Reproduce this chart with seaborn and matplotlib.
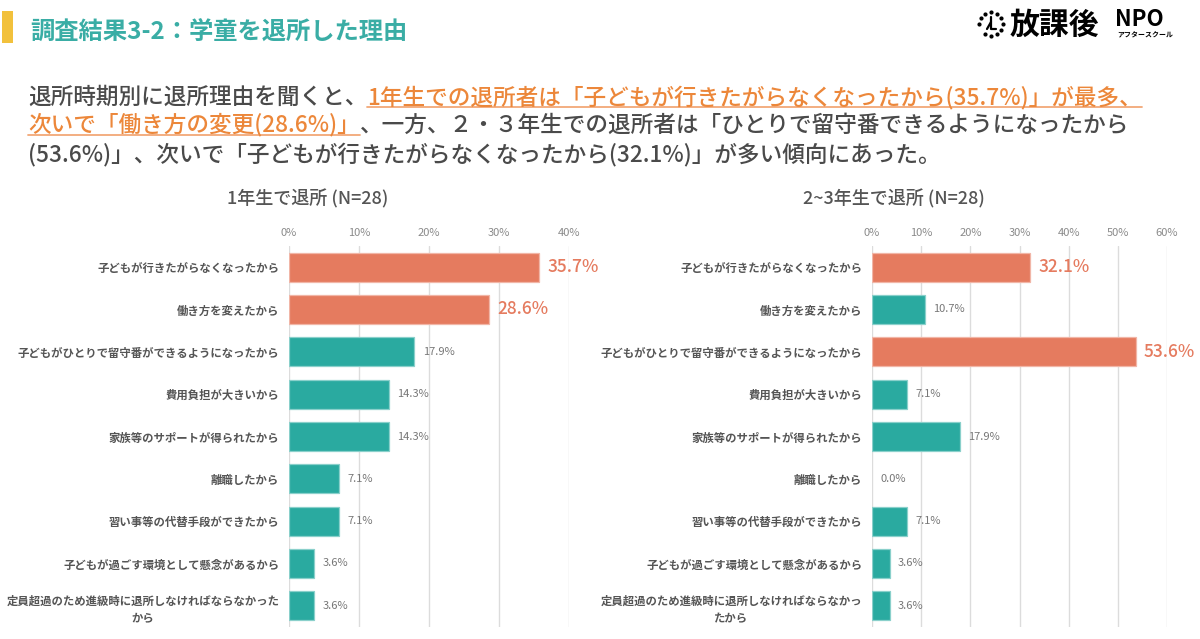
import matplotlib
matplotlib.use('Agg')
import matplotlib.pyplot as plt
import seaborn as sns
import pandas as pd
import numpy as np
from matplotlib.lines import Line2D
from matplotlib.patches import Rectangle
from matplotlib.colors import to_rgb

# ---------------- data ----------------
categories = [
    "子どもが行きたがらなくなったから",
    "働き方を変えたから",
    "子どもがひとりで留守番ができるようになったから",
    "費用負担が大きいから",
    "家族等のサポートが得られたから",
    "離職したから",
    "習い事等の代替手段ができたから",
    "子どもが過ごす環境として懸念があるから",
    "定員超過のため進級時に退所しなければならなかったから",
]
labels_left = categories[:-1] + ["定員超過のため進級時に退所しなければならなかった\nから"]
labels_right = categories[:-1] + ["定員超過のため進級時に退所しなければならなかっ\nたから"]

values_1st = [35.7, 28.6, 17.9, 14.3, 14.3, 7.1, 7.1, 3.6, 3.6]
values_2nd3rd = [32.1, 10.7, 53.6, 7.1, 17.9, 0.0, 7.1, 3.6, 3.6]
highlight_1st = [True, True, False, False, False, False, False, False, False]
highlight_2nd3rd = [True, False, True, False, False, False, False, False, False]

xticks_left = [0, 10, 20, 30, 40]
xticks_right = [0, 10, 20, 30, 40, 50, 60]

title_left = "1年生で退所 (N=28)"
title_right = "2~3年生で退所 (N=28)"
main_title = "調査結果3-2：学童を退所した理由"

subtitle_lines = [
    [("退所時期別に退所理由を聞くと、", False),
     ("1年生での退所者は「子どもが行きたがらなくなったから(35.7%)」が最多、", True)],
    [("次いで「働き方の変更(28.6%)」", True),
     ("、一方、２・３年生での退所者は「ひとりで留守番できるようになったから", False)],
    [("(53.6%)」、次いで「子どもが行きたがらなくなったから(32.1%)」が多い傾向にあった。", False)],
]

# ---------------- style ----------------
TEAL = "#2AAAA0"
ORANGE = "#E57B5F"
TITLE_TEAL = "#3AADA5"
TEXT_GRAY = "#4a4a4a"
LABEL_GRAY = "#555555"
HL_TEXT = "#EC873A"
HL_LINE = "#F2A877"
YELLOW = "#F2C13C"

sns.set_theme(style="white")
plt.rcParams["font.family"] = ["Noto Sans CJK JP", "DejaVu Sans"]

W, H = 1200, 639
fig = plt.figure(figsize=(W / 100, H / 100), dpi=100)
fig.patch.set_facecolor("white")


def px(x, y):
    return x / W, 1 - y / H


def lighten(c, f=0.45):
    r, g, b = to_rgb(c)
    return (r + (1 - r) * f, g + (1 - g) * f, b + (1 - b) * f)


def panel(x0, x1, vals, hl, labels, xticks):
    y_top, y_bot = 246, 627
    ax = fig.add_axes([x0 / W, 1 - y_bot / H, (x1 - x0) / W, (y_bot - y_top) / H])
    df = pd.DataFrame({"cat": categories, "val": vals,
                       "hl": ["hi" if h else "lo" for h in hl]})
    sns.barplot(data=df, x="val", y="cat", hue="hl", order=categories,
                hue_order=["hi", "lo"], palette={"hi": ORANGE, "lo": TEAL},
                dodge=False, legend=False, width=0.68, orient="h", ax=ax,
                saturation=1, linewidth=0)
    for p in ax.patches:
        if p.get_width() > 0:
            p.set_edgecolor(lighten(p.get_facecolor()))
            p.set_linewidth(0.9)
        else:
            p.set_linewidth(0)
    ax.set_xlim(xticks[0], xticks[-1])
    ax.set_ylim(len(categories) - 0.5, -0.5)
    ax.set_xticks(xticks)
    ax.set_xticklabels([f"{t}%" for t in xticks], color="#8a8a8a", fontsize=8)
    ax.xaxis.tick_top()
    ax.tick_params(axis="x", length=0, pad=6)
    ax.set_yticks(range(len(categories)))
    ax.set_yticklabels(labels, fontsize=8.2, fontweight="bold", color=LABEL_GRAY,
                       multialignment="center", linespacing=1.5)
    ax.tick_params(axis="y", length=0, pad=7)
    ax.set_xlabel("")
    ax.set_ylabel("")
    for s in ax.spines.values():
        s.set_visible(False)
    ax.grid(axis="x", color="#dcdcdc", lw=1.0)
    ax.grid(axis="y", visible=False)
    ax.set_axisbelow(True)
    ax.set_facecolor("none")
    for i, (v, h) in enumerate(zip(vals, hl)):
        if h:
            ax.annotate(f"{v:.1f}%", (v, i), xytext=(6, 0), textcoords="offset points",
                        va="center", ha="left", fontsize=12.5, color=ORANGE,
                        fontweight="medium", annotation_clip=False)
        else:
            ax.annotate(f"{v:.1f}%", (v, i), xytext=(6, 0), textcoords="offset points",
                        va="center", ha="left", fontsize=8, color="#777777",
                        annotation_clip=False)
    return ax


panel(289, 569, values_1st, highlight_1st, labels_left, xticks_left)
panel(872, 1167, values_2nd3rd, highlight_2nd3rd, labels_right, xticks_right)

# panel titles
fig.text(*px(308, 199), title_left, ha="center", va="center", fontsize=13,
         color=LABEL_GRAY, fontweight="medium")
fig.text(*px(894, 199), title_right, ha="center", va="center", fontsize=13,
         color=LABEL_GRAY, fontweight="medium")

# header
fig.add_artist(Rectangle(px(2, 43), 11 / W, 32 / H, transform=fig.transFigure,
                         color=YELLOW, lw=0))
fig.text(*px(30, 33), main_title, ha="left", va="center", fontsize=17.5,
         color=TITLE_TEAL, fontweight="bold")

# subtitle with highlighted segments
renderer = fig.canvas.get_renderer()
line_y = [97, 125, 154]
for segs, yc in zip(subtitle_lines, line_y):
    xcur = 28
    for text, hl in segs:
        t = fig.text(*px(xcur, yc), text, ha="left", va="center", fontsize=16.3,
                     color=HL_TEXT if hl else TEXT_GRAY, fontweight="medium")
        bb = t.get_window_extent(renderer)
        if hl:
            yl = yc + 10
            fig.add_artist(Line2D([bb.x0 / W, bb.x1 / W], [1 - yl / H, 1 - yl / H],
                                  transform=fig.transFigure, color=HL_LINE, lw=1.3))
        xcur = bb.x1

# logo
cx, cy, r = 991, 24, 12
ang = np.deg2rad(np.arange(0, 360, 30))
keep = [a for k, a in enumerate(ang) if k not in (8,)]
lx = [(cx + r * np.sin(a)) / W for a in keep]
ly = [1 - (cy - r * np.cos(a)) / H for a in keep]
logo_ax = fig.add_axes([0, 0, 1, 1], facecolor="none")
logo_ax.set_xlim(0, 1)
logo_ax.set_ylim(0, 1)
logo_ax.axis("off")
logo_ax.scatter(lx, ly, s=4, color="black", zorder=5)
logo_ax.plot([cx / W, cx / W, (cx + 5) / W], [1 - (cy - 7) / H, 1 - (cy + 5) / H, 1 - (cy + 5) / H],
             color="black", lw=1.6)
logo_ax.plot([(cx - 4) / W, cx / W], [1 - (cy + 5) / H, 1 - (cy - 2) / H], color="black", lw=1.6)
fig.text(*px(1010, 25), "放課後", ha="left", va="center", fontsize=21.5,
         fontweight="bold", color="black")
fig.text(*px(1115, 20), "NPO", ha="left", va="center", fontsize=16,
         fontweight="bold", color="black")
fig.text(*px(1117, 35), "アフタースクール", ha="left", va="center", fontsize=5,
         fontweight="bold", color="black")

fig.savefig("out.png", dpi=100, facecolor="white")
